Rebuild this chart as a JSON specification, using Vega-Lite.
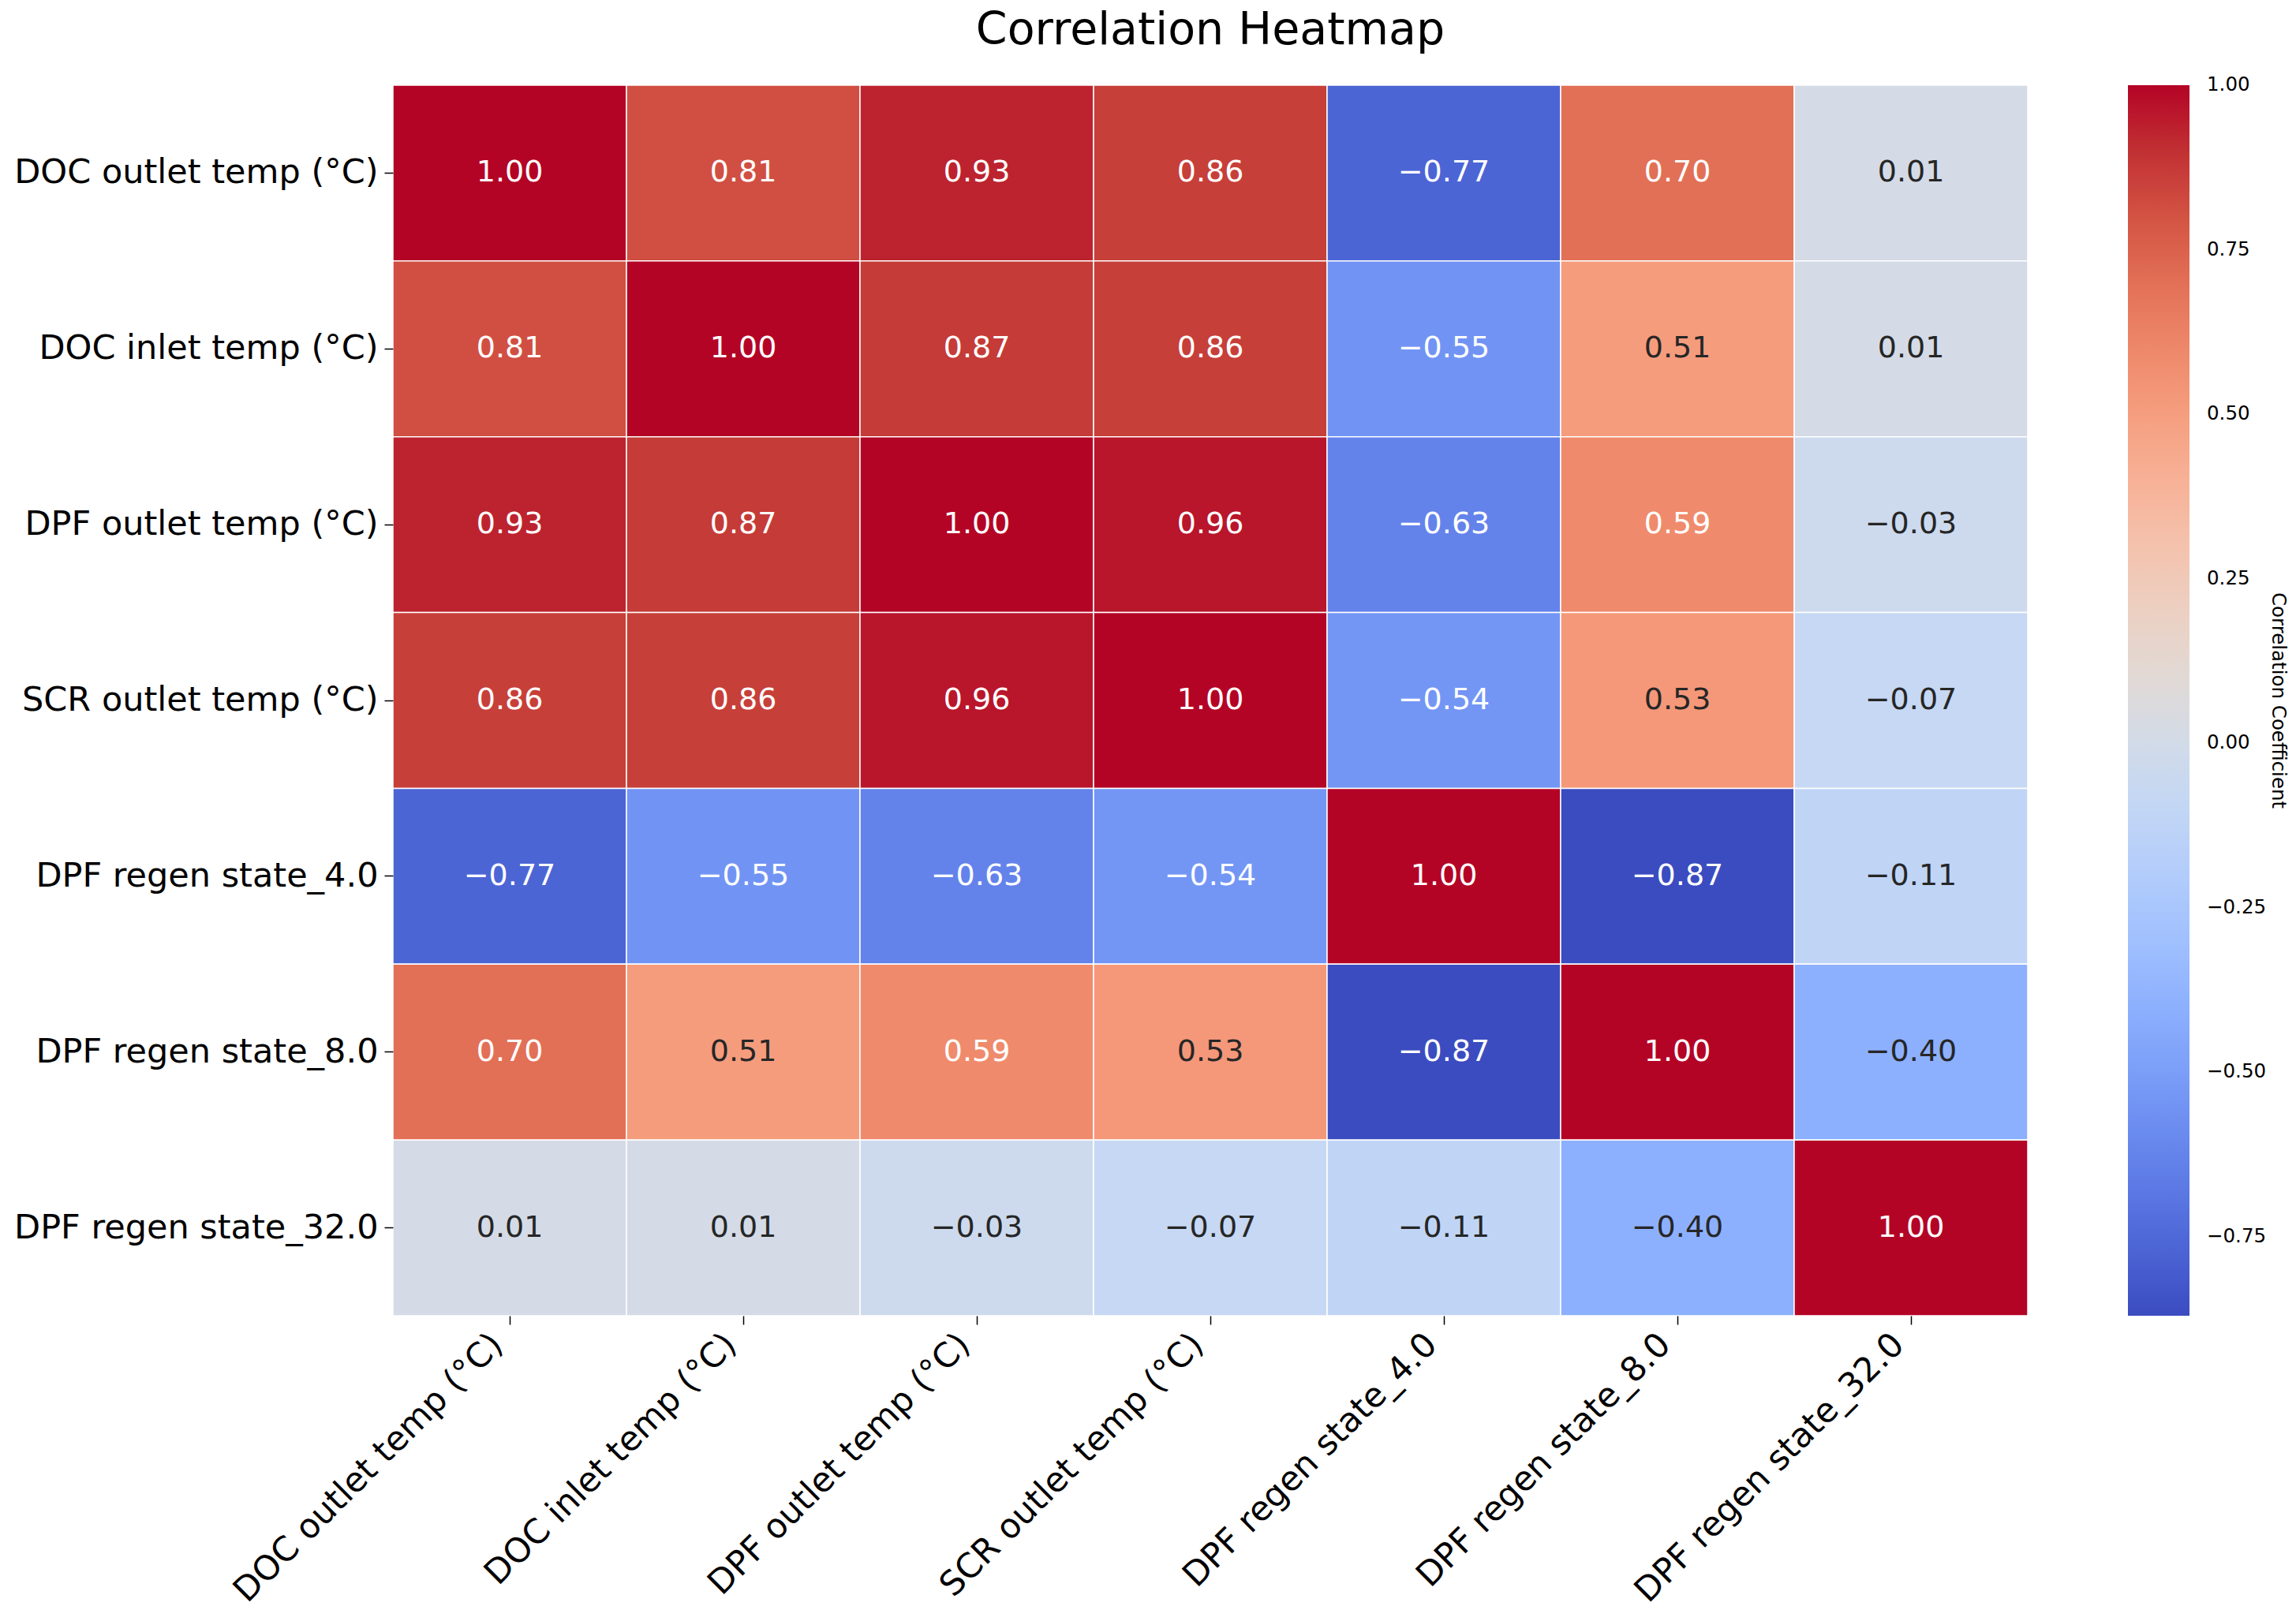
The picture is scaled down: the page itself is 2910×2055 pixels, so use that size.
{
  "$schema": "https://vega.github.io/schema/vega-lite/v6.json",
  "autosize": {"type": "none"},
  "padding": {"left": 498, "top": 108, "right": 340, "bottom": 387},
  "width": 2072,
  "height": 1560,
  "background": "white",
  "title": {"text": "Correlation Heatmap", "fontSize": 57, "font": "DejaVu Sans", "fontWeight": "normal", "color": "#000000", "anchor": "middle", "offset": 39},
  "config": {"view": {"stroke": null}, "font": "DejaVu Sans"},
  "data": {"values": [
    {"x": "DOC outlet temp (°C)", "y": "DOC outlet temp (°C)", "r": 1.00},
    {"x": "DOC inlet temp (°C)", "y": "DOC outlet temp (°C)", "r": 0.81},
    {"x": "DPF outlet temp (°C)", "y": "DOC outlet temp (°C)", "r": 0.93},
    {"x": "SCR outlet temp (°C)", "y": "DOC outlet temp (°C)", "r": 0.86},
    {"x": "DPF regen state_4.0", "y": "DOC outlet temp (°C)", "r": -0.77},
    {"x": "DPF regen state_8.0", "y": "DOC outlet temp (°C)", "r": 0.70},
    {"x": "DPF regen state_32.0", "y": "DOC outlet temp (°C)", "r": 0.01},
    {"x": "DOC outlet temp (°C)", "y": "DOC inlet temp (°C)", "r": 0.81},
    {"x": "DOC inlet temp (°C)", "y": "DOC inlet temp (°C)", "r": 1.00},
    {"x": "DPF outlet temp (°C)", "y": "DOC inlet temp (°C)", "r": 0.87},
    {"x": "SCR outlet temp (°C)", "y": "DOC inlet temp (°C)", "r": 0.86},
    {"x": "DPF regen state_4.0", "y": "DOC inlet temp (°C)", "r": -0.55},
    {"x": "DPF regen state_8.0", "y": "DOC inlet temp (°C)", "r": 0.51},
    {"x": "DPF regen state_32.0", "y": "DOC inlet temp (°C)", "r": 0.01},
    {"x": "DOC outlet temp (°C)", "y": "DPF outlet temp (°C)", "r": 0.93},
    {"x": "DOC inlet temp (°C)", "y": "DPF outlet temp (°C)", "r": 0.87},
    {"x": "DPF outlet temp (°C)", "y": "DPF outlet temp (°C)", "r": 1.00},
    {"x": "SCR outlet temp (°C)", "y": "DPF outlet temp (°C)", "r": 0.96},
    {"x": "DPF regen state_4.0", "y": "DPF outlet temp (°C)", "r": -0.63},
    {"x": "DPF regen state_8.0", "y": "DPF outlet temp (°C)", "r": 0.59},
    {"x": "DPF regen state_32.0", "y": "DPF outlet temp (°C)", "r": -0.03},
    {"x": "DOC outlet temp (°C)", "y": "SCR outlet temp (°C)", "r": 0.86},
    {"x": "DOC inlet temp (°C)", "y": "SCR outlet temp (°C)", "r": 0.86},
    {"x": "DPF outlet temp (°C)", "y": "SCR outlet temp (°C)", "r": 0.96},
    {"x": "SCR outlet temp (°C)", "y": "SCR outlet temp (°C)", "r": 1.00},
    {"x": "DPF regen state_4.0", "y": "SCR outlet temp (°C)", "r": -0.54},
    {"x": "DPF regen state_8.0", "y": "SCR outlet temp (°C)", "r": 0.53},
    {"x": "DPF regen state_32.0", "y": "SCR outlet temp (°C)", "r": -0.07},
    {"x": "DOC outlet temp (°C)", "y": "DPF regen state_4.0", "r": -0.77},
    {"x": "DOC inlet temp (°C)", "y": "DPF regen state_4.0", "r": -0.55},
    {"x": "DPF outlet temp (°C)", "y": "DPF regen state_4.0", "r": -0.63},
    {"x": "SCR outlet temp (°C)", "y": "DPF regen state_4.0", "r": -0.54},
    {"x": "DPF regen state_4.0", "y": "DPF regen state_4.0", "r": 1.00},
    {"x": "DPF regen state_8.0", "y": "DPF regen state_4.0", "r": -0.87},
    {"x": "DPF regen state_32.0", "y": "DPF regen state_4.0", "r": -0.11},
    {"x": "DOC outlet temp (°C)", "y": "DPF regen state_8.0", "r": 0.70},
    {"x": "DOC inlet temp (°C)", "y": "DPF regen state_8.0", "r": 0.51},
    {"x": "DPF outlet temp (°C)", "y": "DPF regen state_8.0", "r": 0.59},
    {"x": "SCR outlet temp (°C)", "y": "DPF regen state_8.0", "r": 0.53},
    {"x": "DPF regen state_4.0", "y": "DPF regen state_8.0", "r": -0.87},
    {"x": "DPF regen state_8.0", "y": "DPF regen state_8.0", "r": 1.00},
    {"x": "DPF regen state_32.0", "y": "DPF regen state_8.0", "r": -0.40},
    {"x": "DOC outlet temp (°C)", "y": "DPF regen state_32.0", "r": 0.01},
    {"x": "DOC inlet temp (°C)", "y": "DPF regen state_32.0", "r": 0.01},
    {"x": "DPF outlet temp (°C)", "y": "DPF regen state_32.0", "r": -0.03},
    {"x": "SCR outlet temp (°C)", "y": "DPF regen state_32.0", "r": -0.07},
    {"x": "DPF regen state_4.0", "y": "DPF regen state_32.0", "r": -0.11},
    {"x": "DPF regen state_8.0", "y": "DPF regen state_32.0", "r": -0.40},
    {"x": "DPF regen state_32.0", "y": "DPF regen state_32.0", "r": 1.00}
  ]},
  "encoding": {
    "x": {
      "field": "x", "type": "nominal", "title": null,
      "sort": ["DOC outlet temp (°C)", "DOC inlet temp (°C)", "DPF outlet temp (°C)", "SCR outlet temp (°C)", "DPF regen state_4.0", "DPF regen state_8.0", "DPF regen state_32.0"],
      "scale": {"paddingInner": 0, "paddingOuter": 0},
      "axis": {"labelAngle": -45, "labelAlign": "right", "labelBaseline": "bottom", "labelFontSize": 43, "labelFont": "DejaVu Sans", "labelColor": "#000000", "labelPadding": 34, "labelLimit": 1000, "tickSize": 11, "tickColor": "#000000", "tickWidth": 1.5, "domain": false, "grid": false}
    },
    "y": {
      "field": "y", "type": "nominal", "title": null,
      "sort": ["DOC outlet temp (°C)", "DOC inlet temp (°C)", "DPF outlet temp (°C)", "SCR outlet temp (°C)", "DPF regen state_4.0", "DPF regen state_8.0", "DPF regen state_32.0"],
      "scale": {"paddingInner": 0, "paddingOuter": 0},
      "axis": {"labelFontSize": 43, "labelFont": "DejaVu Sans", "labelColor": "#000000", "labelPadding": 8, "labelLimit": 1000, "tickSize": 11, "tickColor": "#000000", "tickWidth": 1.5, "domain": false, "grid": false}
    }
  },
  "layer": [
    {
      "mark": {"type": "rect", "stroke": "white", "strokeWidth": 1.5},
      "encoding": {
        "color": {
          "field": "r", "type": "quantitative",
          "scale": {
            "type": "linear",
            "interpolate": "rgb",
            "domain": [-0.87, -0.753125, -0.63625, -0.519375, -0.4025, -0.285625, -0.16875, -0.051875, 0.065, 0.181875, 0.29875, 0.415625, 0.5325, 0.649375, 0.76625, 0.883125, 1.0],
            "range": ["rgb(59,76,192)", "rgb(79,105,217)", "rgb(98,130,234)", "rgb(119,154,247)", "rgb(141,176,254)", "rgb(163,194,254)", "rgb(183,208,250)", "rgb(201,218,242)", "rgb(221,220,220)", "rgb(235,210,198)", "rgb(244,194,173)", "rgb(247,174,146)", "rgb(244,152,120)", "rgb(233,125,96)", "rgb(217,94,73)", "rgb(195,55,53)", "rgb(180,4,38)"]
          },
          "legend": {
            "type": "gradient", "direction": "vertical", "orient": "right", "offset": 127, "padding": 0,
            "gradientLength": 1560, "gradientThickness": 78, "gradientStrokeWidth": 0,
            "values": [-0.75, -0.5, -0.25, 0, 0.25, 0.5, 0.75, 1.0],
            "format": ".2f",
            "labelFontSize": 24.5, "labelFont": "DejaVu Sans", "labelColor": "#000000", "labelOffset": 22, "labelBaseline": "middle", "labelOverlap": false, "labelLimit": 300,
            "title": "Correlation Coefficient", "titleOrient": "right", "titleAngle": 270, "titleFontSize": 24.5, "titleFont": "DejaVu Sans", "titleFontWeight": "normal", "titleColor": "#000000", "titleAnchor": "middle", "titlePadding": 3, "titleLimit": 2000,
            "encode": {"labels": {"update": {"baseline": {"value": "middle"}}}}
          }
        }
      }
    },
    {
      "mark": {"type": "text", "fontSize": 38, "font": "DejaVu Sans"},
      "encoding": {
        "text": {"field": "r", "type": "quantitative", "format": ".2f"},
        "color": {"condition": {"test": "datum.r > 0.55 || datum.r < -0.45", "value": "white"}, "value": "#262626"}
      }
    }
  ]
}
